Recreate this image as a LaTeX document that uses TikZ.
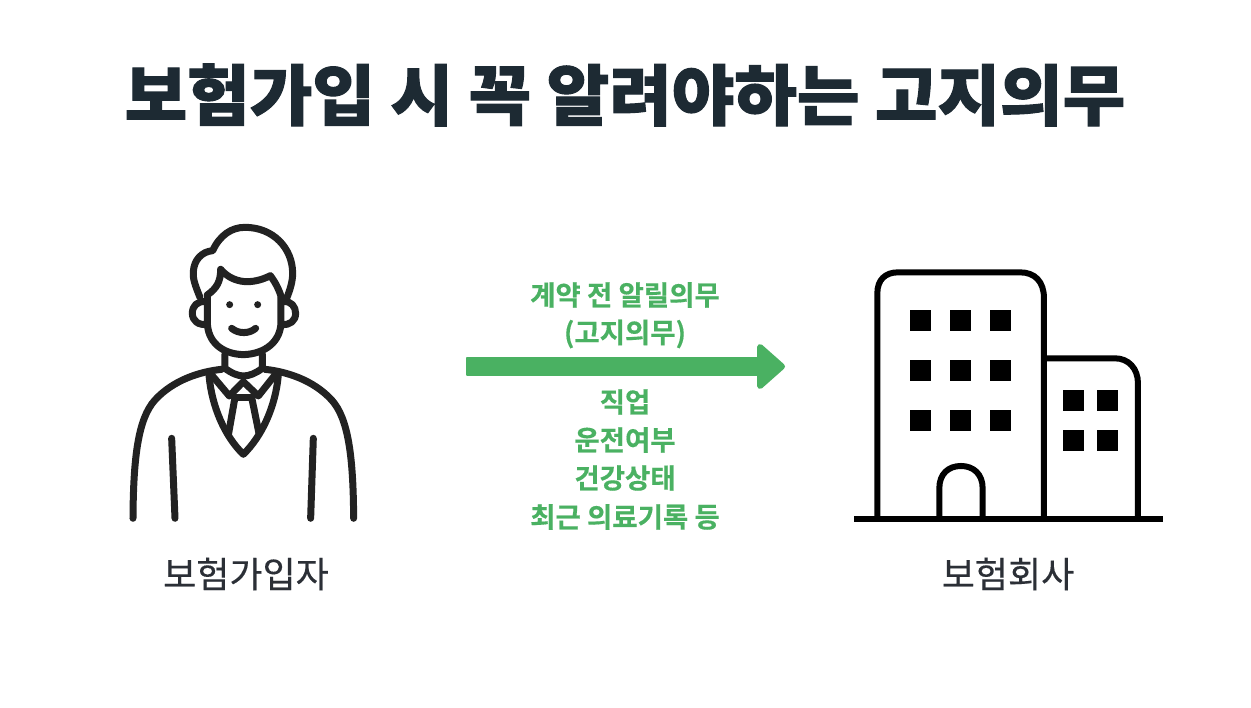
\documentclass[tikz,border=0pt]{standalone}
\usepackage{fontspec}
\newfontfamily\krreg[FakeBold=0.3]{Noto Sans CJK KR}
\newfontfamily\krbold[FakeBold=0.4]{Noto Sans CJK KR Bold}
\newfontfamily\krblack[FakeBold=1.6,FakeStretch=1.03]{Noto Sans CJK KR Black}
\definecolor{titlec}{HTML}{1D2A33}
\definecolor{labelc}{HTML}{2B2F36}
\definecolor{greenc}{HTML}{4AB162}
\definecolor{inkc}{HTML}{222222}
\tikzset{
  titletext/.style={text=titlec,font=\krblack\fontsize{66}{70}\selectfont,inner sep=0pt,anchor=center},
  nametext/.style={text=labelc,font=\krreg\fontsize{36}{40}\selectfont,inner sep=0pt,anchor=center},
  greentext/.style={text=greenc,font=\krbold\fontsize{27.5}{30}\selectfont,inner sep=0pt,anchor=center},
  personline/.style={draw=inkc,line width=7pt,line cap=round,line join=round},
  bldline/.style={draw=black,line width=6pt},
  win/.style={fill=black,draw=none},
  arrowshape/.style={fill=greenc,draw=greenc,line join=round},
}
\begin{document}
\begin{tikzpicture}[x=1pt,y=-1pt]
\useasboundingbox (0,0) rectangle (1251,708);
\fill[white] (0,0) rectangle (1251,708);
\node[titletext] (title) at (625,95) {보험가입 시 꼭 알려야하는 고지의무};
\node[nametext] (lblA) at (246,574) {보험가입자};
\node[nametext] (lblB) at (1008,574) {보험회사};
\node[greentext] (g1) at (625,295) {계약 전 알릴의무};
\node[greentext] (g2) at (625,334) {(고지의무)};
\node[greentext] (g3) at (625,402) {직업};
\node[greentext] (g4) at (625,440) {운전여부};
\node[greentext] (g5) at (625,478) {건강상태};
\node[greentext] (g6) at (625,517) {최근 의료기록 등};
% arrow
\draw[arrowshape,line width=2pt] (467,358) -- (757,358) -- (757,375) -- (467,375) -- cycle;
\draw[arrowshape,line width=6pt] (760,347) -- (782,366.5) -- (760,386) -- cycle;
% person
\begin{scope}[shift={(110,210)},x=0.3333pt,y=-0.3333pt]
\begin{scope}[personline]
\draw (270,262) .. controls (255,225) and (248,205) .. (250,185) .. controls (252,150) and (275,125) .. (308,122)
  .. controls (330,75) and (365,52) .. (405,52) .. controls (490,52) and (548,115) .. (548,190) .. controls (548,215) and (540,240) .. (530,265);
\draw (292,255) .. controls (320,235) and (332,215) .. (332,178) .. controls (355,205) and (385,215) .. (412,215) .. controls (435,215) and (460,208) .. (481,197) .. controls (495,215) and (508,240) .. (514,262);
\draw (292,255) -- (292,335) .. controls (292,395) and (335,432) .. (400,434) .. controls (465,432) and (513,395) .. (513,335) -- (513,262);
\draw (288,275) .. controls (262,272) and (247,288) .. (247,310) .. controls (247,332) and (265,347) .. (292,343);
\draw (520,275) .. controls (543,272) and (557,290) .. (557,310) .. controls (557,332) and (540,347) .. (515,343);
\fill[inkc] (359,284) circle [radius=3.5pt];
\fill[inkc] (443,284) circle [radius=3.5pt];
\draw (365,355) .. controls (385,372) and (418,372) .. (437,355);
\draw (345,432) -- (345,475) .. controls (365,490) and (385,498) .. (400,498) .. controls (418,498) and (437,490) .. (457,475) -- (457,432);
\draw (335,478) .. controls (270,485) and (190,510) .. (135,570) .. controls (85,625) and (70,740) .. (69,925);
\draw (465,478) .. controls (530,485) and (610,510) .. (665,570) .. controls (715,625) and (730,740) .. (731,925);
\draw (297,495) .. controls (305,590) and (345,680) .. (400,733) .. controls (455,680) and (497,590) .. (505,495);
\draw (305,495) -- (358,558) -- (400,515) -- (445,558) -- (495,495);
\draw (375,562) -- (425,562);
\draw (375,562) -- (356,670);
\draw (425,562) -- (447,670);
\draw (185,685) -- (195,925);
\draw (610,685) -- (602,925);
\end{scope}
\end{scope}
% building
\begin{scope}[shift={(840,250)},x=0.3333pt,y=-0.3333pt]
\draw[bldline] (112,807) -- (112,130) .. controls (112,90) and (135,67) .. (175,67) -- (540,67) .. controls (585,67) and (612,95) .. (612,145) -- (612,807);
\draw[bldline] (612,325) -- (825,325) .. controls (865,325) and (894,355) .. (894,400) -- (894,807);
\draw[bldline] (298,807) -- (298,715) .. controls (298,672) and (325,648) .. (363,648) .. controls (400,648) and (428,672) .. (428,715) -- (428,807);
\draw[bldline] (42,807) -- (968,807);
\foreach \xx in {211,331,451}{\foreach \yy in {180,330,480}{\fill[win] (\xx,\yy) rectangle ++(63,63);}}
\foreach \xx in {669,771}{\foreach \yy in {419,539}{\fill[win] (\xx,\yy) rectangle ++(63,63);}}
\end{scope}
\end{tikzpicture}
\end{document}
